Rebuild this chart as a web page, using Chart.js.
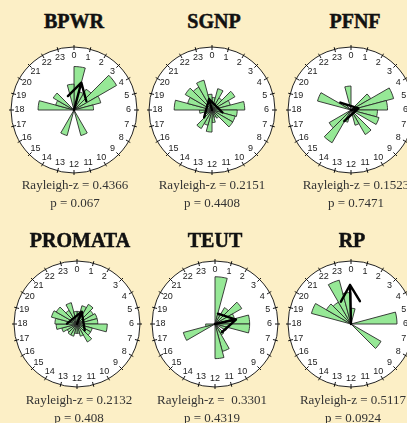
<!DOCTYPE html>
<html>
<head>
<meta charset="utf-8">
<script src="https://cdn.jsdelivr.net/npm/chart.js@4"></script>
<style>
  html, body { margin:0; padding:0; }
  body { width:407px; height:423px; background:#fcefc6; position:relative; overflow:hidden; }
  .box { position:absolute; width:136px; height:136px; }
  .title { position:absolute; transform:translate(-50%,-50%); font:bold 20px "Liberation Serif", serif; color:#111; -webkit-text-stroke:0.5px #111; white-space:nowrap; }
  .stat { position:absolute; transform:translate(-50%,-50%); font:13px "Liberation Serif", serif; color:#333; white-space:pre; }
</style>
</head>
<body>
<script>
// hour labels round the clock face
var hourLabels = [];
for (var h = 0; h < 24; h++) hourLabels.push(String(h));

// bar lengths per hour bin (fraction of the outer circle)
var bpwr    = [0.69,0.30,0.38,0.78,0.44,0.31,0,0,0,0,0.42,0,0,0.42,0,0,0,0,0.57,0.30,0.38,0,0,0.41];
var sgnp    = [0.20,0.35,0.22,0.42,0.30,0.52,0.40,0.38,0.38,0.15,0.12,0.20,0.35,0.25,0.34,0.10,0.12,0.20,0.60,0.40,0.49,0.42,0.49,0.25];
var pfnf    = [0,0,0,0.36,0.70,0.58,0.42,0.46,0,0.45,0.25,0,0,0.20,0.60,0.40,0,0,0,0.55,0.15,0,0,0.38];
var promata = [0.20,0.30,0.36,0.30,0.33,0.33,0.48,0.25,0.25,0.33,0.20,0.15,0.15,0.20,0.20,0.18,0.25,0.33,0.35,0.42,0.38,0.25,0.35,0.20];
var teut    = [0.75,0.15,0.30,0.49,0.32,0.55,0.55,0.20,0,0.20,0.45,0.55,0,0,0,0,0.52,0.15,0,0,0,0,0,0];
var rp      = [0.25,0,0,0,0,0.73,0,0,0.55,0,0,0,0,0,0,0,0,0,0,0.65,0.45,0.40,0.72,0.50];

// mean vector: direction in hours, length as fraction of circle
var meanHour = [1.0, 23.0, 5.2, 1.4, 5.2, 23.9];
var meanLen  = [0.45, 0.18, 0.12, 0.21, 0.34, 0.62];

var names  = ["BPWR","SGNP","PFNF","PROMATA","TEUT","RP"];
var zText  = ["Rayleigh-z = 0.4366","Rayleigh-z = 0.2151","Rayleigh-z = 0.1523","Rayleigh-z = 0.2132","Rayleigh-z =  0.3301","Rayleigh-z = 0.5117"];
var pText  = ["p = 0.067","p = 0.4408","p = 0.7471","p = 0.408","p = 0.4319","p = 0.0924"];
var series = [bpwr, sgnp, pfnf, promata, teut, rp];

// layout
var cx = [74, 212, 351, 77, 215, 351];
var cy = [110, 110, 110, 324, 324, 324];
var titleX = [74, 214, 355, 80, 215, 352];
var titleY = [21, 21, 21, 240, 240, 240];
var statX = [75, 212, 356, 79, 212, 353];
var statY = [185, 185, 185, 400, 400, 400];

var clockFace = {
    id: 'clockFace',
    afterDatasetsDraw: function(chart){
        var r = chart.scales.r;
        var ctx = chart.ctx;
        var R = r.drawingArea;
        var k = chart.options.plugins.clockFace.index;
        ctx.save();
        // hour ticks and numbers
        ctx.strokeStyle = '#111';
        ctx.lineWidth = 1;
        ctx.fillStyle = '#222';
        ctx.font = '9px "Liberation Sans", Arial, sans-serif';
        ctx.textAlign = 'center';
        ctx.textBaseline = 'middle';
        for (var i = 0; i < hourLabels.length; i++) {
            var a = r.getPointPosition(i, R - 3);
            var b = r.getPointPosition(i, R + 2);
            ctx.beginPath(); ctx.moveTo(a.x, a.y); ctx.lineTo(b.x, b.y); ctx.stroke();
            var t = r.getPointPosition(i, R - 8.5);
            ctx.fillText(hourLabels[i], t.x, t.y);
        }
        // mean vector arrow
        var ang = r.getIndexAngle(meanHour[k]) - Math.PI / 2;
        var tip = r.getPointPosition(meanHour[k], r.getDistanceFromCenterForValue(meanLen[k]));
        ctx.strokeStyle = '#000';
        ctx.lineWidth = 2.4;
        ctx.lineCap = 'round';
        ctx.lineJoin = 'round';
        ctx.beginPath();
        ctx.moveTo(r.xCenter, r.yCenter);
        ctx.lineTo(tip.x, tip.y);
        var back = ang + Math.PI;
        var hl = 19, spread = Math.PI / 6;
        ctx.moveTo(tip.x + Math.cos(back - spread) * hl, tip.y + Math.sin(back - spread) * hl);
        ctx.lineTo(tip.x, tip.y);
        ctx.lineTo(tip.x + Math.cos(back + spread) * hl, tip.y + Math.sin(back + spread) * hl);
        ctx.stroke();
        ctx.restore();
    }
};

function addText(cls, txt, x, y){
    var d = document.createElement('div');
    d.className = cls;
    d.textContent = txt;
    d.style.left = x + 'px';
    d.style.top = y + 'px';
    document.body.appendChild(d);
}

for (let i = 0; i < names.length; i++) {
    let box = document.createElement('div');
    box.className = 'box';
    box.style.left = (cx[i] - 68) + 'px';
    box.style.top = (cy[i] - 68) + 'px';
    let cv = document.createElement('canvas');
    cv.width = 136; cv.height = 136;
    box.appendChild(cv);
    document.body.appendChild(box);

    addText('title', names[i], titleX[i], titleY[i]);
    addText('stat', zText[i], statX[i], statY[i]);
    addText('stat', pText[i], statX[i], statY[i] + 18);

    new Chart(cv, {
        type: 'polarArea',
        data: {
            labels: hourLabels,
            datasets: [{
                data: series[i],
                backgroundColor: 'rgb(150,232,150)',
                borderColor: '#2a2a2a',
                borderWidth: 0.9
            }]
        },
        options: {
            responsive: false,
            animation: false,
            layout: { padding: 5 },
            plugins: {
                legend: { display: false },
                tooltip: { enabled: false },
                clockFace: { index: i }
            },
            scales: {
                r: {
                    min: 0,
                    max: 1,
                    startAngle: 0,
                    backgroundColor: '#ffffff',
                    ticks: { display: false, stepSize: 1 },
                    grid: { color: '#222', lineWidth: 1, circular: true },
                    angleLines: { display: false },
                    pointLabels: { display: false }
                }
            }
        },
        plugins: [clockFace]
    });
}
</script>
</body>
</html>
